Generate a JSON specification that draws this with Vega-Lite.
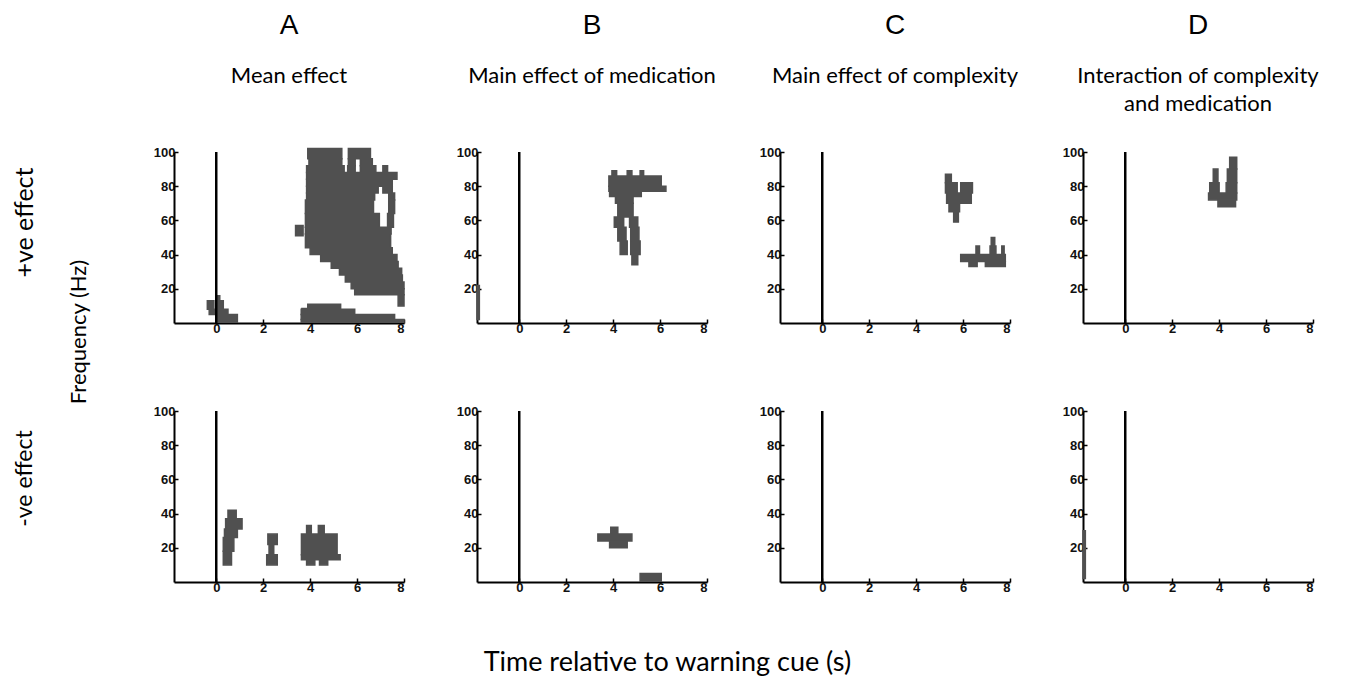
{
  "$schema": "https://vega.github.io/schema/vega-lite/v6.json",
  "background": "white",
  "padding": {"left": 12, "top": 12, "right": 5, "bottom": 5},
  "config": {
    "view": {"stroke": null},
    "axis": {"grid": false, "domainColor": "black", "domainWidth": 2, "tickColor": "black", "tickWidth": 1.5, "tickSize": -4, "labelFont": "Liberation Sans", "labelFontSize": 13, "labelFontWeight": "bold", "labelColor": "#111111", "labelPadding": 3},
    "title": {"font": "Liberation Sans", "fontSize": 28, "fontWeight": "normal", "color": "black", "subtitleFont": "Lato", "subtitleFontSize": 22, "subtitleColor": "black", "subtitleLineHeight": 28, "subtitlePadding": 26, "offset": 31, "anchor": "middle", "frame": "group"}
  },
  "datasets": {
    "blobs": [
      {"p":"A","r":"pos","t1":3.90,"t2":5.35,"f1":96,"f2":102},
      {"p":"A","r":"pos","t1":5.63,"t2":6.57,"f1":96,"f2":102},
      {"p":"A","r":"pos","t1":3.95,"t2":5.35,"f1":92,"f2":96},
      {"p":"A","r":"pos","t1":5.63,"t2":5.92,"f1":92,"f2":96},
      {"p":"A","r":"pos","t1":6.14,"t2":6.65,"f1":92,"f2":96},
      {"p":"A","r":"pos","t1":3.85,"t2":5.45,"f1":88,"f2":92},
      {"p":"A","r":"pos","t1":5.60,"t2":5.92,"f1":88,"f2":92},
      {"p":"A","r":"pos","t1":6.14,"t2":6.80,"f1":88,"f2":92},
      {"p":"A","r":"pos","t1":7.10,"t2":7.30,"f1":88,"f2":92},
      {"p":"A","r":"pos","t1":3.85,"t2":7.70,"f1":84,"f2":88},
      {"p":"A","r":"pos","t1":3.85,"t2":7.50,"f1":80,"f2":84},
      {"p":"A","r":"pos","t1":3.85,"t2":6.90,"f1":76,"f2":80},
      {"p":"A","r":"pos","t1":7.10,"t2":7.50,"f1":76,"f2":80},
      {"p":"A","r":"pos","t1":3.85,"t2":6.75,"f1":72,"f2":76},
      {"p":"A","r":"pos","t1":7.35,"t2":7.60,"f1":72,"f2":76},
      {"p":"A","r":"pos","t1":3.80,"t2":6.70,"f1":64,"f2":72},
      {"p":"A","r":"pos","t1":7.35,"t2":7.60,"f1":64,"f2":72},
      {"p":"A","r":"pos","t1":3.80,"t2":6.95,"f1":56,"f2":64},
      {"p":"A","r":"pos","t1":7.30,"t2":7.55,"f1":56,"f2":64},
      {"p":"A","r":"pos","t1":3.80,"t2":7.45,"f1":52,"f2":56},
      {"p":"A","r":"pos","t1":3.38,"t2":3.70,"f1":51,"f2":57},
      {"p":"A","r":"pos","t1":3.80,"t2":7.43,"f1":44,"f2":52},
      {"p":"A","r":"pos","t1":4.00,"t2":7.50,"f1":40,"f2":44},
      {"p":"A","r":"pos","t1":4.45,"t2":7.70,"f1":36,"f2":40},
      {"p":"A","r":"pos","t1":4.90,"t2":7.75,"f1":32,"f2":36},
      {"p":"A","r":"pos","t1":5.25,"t2":7.90,"f1":28,"f2":32},
      {"p":"A","r":"pos","t1":5.50,"t2":7.93,"f1":24,"f2":28},
      {"p":"A","r":"pos","t1":5.75,"t2":8.00,"f1":20,"f2":24},
      {"p":"A","r":"pos","t1":5.90,"t2":8.00,"f1":16.5,"f2":20},
      {"p":"A","r":"pos","t1":7.75,"t2":8.00,"f1":10,"f2":16.5},
      {"p":"A","r":"pos","t1":3.65,"t2":3.85,"f1":6,"f2":8.5},
      {"p":"A","r":"pos","t1":3.90,"t2":5.30,"f1":8,"f2":11},
      {"p":"A","r":"pos","t1":3.62,"t2":5.90,"f1":5,"f2":8},
      {"p":"A","r":"pos","t1":3.62,"t2":7.60,"f1":2,"f2":5},
      {"p":"A","r":"pos","t1":3.62,"t2":8.00,"f1":0.5,"f2":2},
      {"p":"A","r":"pos","t1":0.00,"t2":0.15,"f1":13,"f2":16},
      {"p":"A","r":"pos","t1":-0.38,"t2":-0.10,"f1":8,"f2":13},
      {"p":"A","r":"pos","t1":0.00,"t2":0.30,"f1":8,"f2":13},
      {"p":"A","r":"pos","t1":-0.30,"t2":0.50,"f1":5,"f2":8},
      {"p":"A","r":"pos","t1":0.00,"t2":0.90,"f1":0.5,"f2":5},

      {"p":"B","r":"pos","t1":3.95,"t2":4.15,"f1":86,"f2":89},
      {"p":"B","r":"pos","t1":4.60,"t2":4.80,"f1":86,"f2":89},
      {"p":"B","r":"pos","t1":5.15,"t2":5.30,"f1":86,"f2":89},
      {"p":"B","r":"pos","t1":3.82,"t2":6.05,"f1":80,"f2":86},
      {"p":"B","r":"pos","t1":3.82,"t2":6.25,"f1":77,"f2":80},
      {"p":"B","r":"pos","t1":3.85,"t2":5.20,"f1":74,"f2":77},
      {"p":"B","r":"pos","t1":4.10,"t2":4.85,"f1":70,"f2":74},
      {"p":"B","r":"pos","t1":4.20,"t2":4.85,"f1":62,"f2":70},
      {"p":"B","r":"pos","t1":4.05,"t2":4.45,"f1":56,"f2":62},
      {"p":"B","r":"pos","t1":4.70,"t2":5.05,"f1":56,"f2":62},
      {"p":"B","r":"pos","t1":4.20,"t2":4.55,"f1":48,"f2":56},
      {"p":"B","r":"pos","t1":4.75,"t2":5.10,"f1":48,"f2":56},
      {"p":"B","r":"pos","t1":4.30,"t2":4.60,"f1":40,"f2":48},
      {"p":"B","r":"pos","t1":4.75,"t2":5.15,"f1":40,"f2":48},
      {"p":"B","r":"pos","t1":4.80,"t2":5.05,"f1":34,"f2":40},
      {"p":"B","r":"pos","t1":-1.80,"t2":-1.70,"f1":2,"f2":22},

      {"p":"C","r":"pos","t1":5.25,"t2":5.50,"f1":82,"f2":87},
      {"p":"C","r":"pos","t1":5.25,"t2":5.75,"f1":76,"f2":82},
      {"p":"C","r":"pos","t1":5.90,"t2":6.40,"f1":76,"f2":82},
      {"p":"C","r":"pos","t1":5.30,"t2":6.35,"f1":70,"f2":76},
      {"p":"C","r":"pos","t1":5.40,"t2":5.85,"f1":65,"f2":70},
      {"p":"C","r":"pos","t1":5.60,"t2":5.80,"f1":59,"f2":65},
      {"p":"C","r":"pos","t1":7.20,"t2":7.35,"f1":45,"f2":50},
      {"p":"C","r":"pos","t1":6.55,"t2":6.70,"f1":40,"f2":45},
      {"p":"C","r":"pos","t1":7.15,"t2":7.40,"f1":40,"f2":45},
      {"p":"C","r":"pos","t1":7.65,"t2":7.75,"f1":40,"f2":45},
      {"p":"C","r":"pos","t1":5.90,"t2":7.80,"f1":36,"f2":40},
      {"p":"C","r":"pos","t1":6.25,"t2":6.60,"f1":33,"f2":36},
      {"p":"C","r":"pos","t1":6.95,"t2":7.80,"f1":33,"f2":36},

      {"p":"D","r":"pos","t1":4.45,"t2":4.75,"f1":90,"f2":97},
      {"p":"D","r":"pos","t1":3.75,"t2":3.95,"f1":82,"f2":90},
      {"p":"D","r":"pos","t1":4.35,"t2":4.75,"f1":82,"f2":90},
      {"p":"D","r":"pos","t1":3.60,"t2":4.00,"f1":76,"f2":82},
      {"p":"D","r":"pos","t1":4.30,"t2":4.75,"f1":76,"f2":82},
      {"p":"D","r":"pos","t1":3.55,"t2":4.75,"f1":72,"f2":76},
      {"p":"D","r":"pos","t1":3.95,"t2":4.70,"f1":68,"f2":72},

      {"p":"A","r":"neg","t1":0.50,"t2":0.85,"f1":37,"f2":42},
      {"p":"A","r":"neg","t1":0.40,"t2":1.10,"f1":31,"f2":37},
      {"p":"A","r":"neg","t1":0.35,"t2":0.90,"f1":26,"f2":31},
      {"p":"A","r":"neg","t1":0.30,"t2":0.75,"f1":18,"f2":26},
      {"p":"A","r":"neg","t1":0.30,"t2":0.65,"f1":10,"f2":18},
      {"p":"A","r":"neg","t1":2.20,"t2":2.60,"f1":22,"f2":28},
      {"p":"A","r":"neg","t1":2.25,"t2":2.45,"f1":16,"f2":22},
      {"p":"A","r":"neg","t1":2.15,"t2":2.60,"f1":10,"f2":16},
      {"p":"A","r":"neg","t1":3.85,"t2":4.05,"f1":28,"f2":33},
      {"p":"A","r":"neg","t1":4.35,"t2":4.60,"f1":28,"f2":33},
      {"p":"A","r":"neg","t1":3.63,"t2":5.15,"f1":16,"f2":28},
      {"p":"A","r":"neg","t1":3.63,"t2":5.28,"f1":13,"f2":16},
      {"p":"A","r":"neg","t1":3.85,"t2":4.20,"f1":10,"f2":13},
      {"p":"A","r":"neg","t1":4.40,"t2":4.75,"f1":10,"f2":13},

      {"p":"B","r":"neg","t1":3.90,"t2":4.20,"f1":28,"f2":32},
      {"p":"B","r":"neg","t1":3.35,"t2":4.80,"f1":24,"f2":28},
      {"p":"B","r":"neg","t1":3.85,"t2":4.60,"f1":20,"f2":24},
      {"p":"B","r":"neg","t1":5.15,"t2":6.05,"f1":0.5,"f2":5},

      {"p":"D","r":"neg","t1":-1.80,"t2":-1.70,"f1":2,"f2":30}
    ]
  },
  "data": {"name": "blobs"},
  "title": {"text": "Frequency (Hz)", "orient": "left", "anchor": "middle", "frame": "bounds", "offset": -79, "dx": 12, "font": "Lato", "fontSize": 22, "fontWeight": "normal", "color": "black"},
  "spacing": 70,
  "vconcat": [
    {
      "bounds": "flush",
      "spacing": 73,
      "hconcat": [
        {
          "width": 230, "height": 171,
          "title": {"text": "A", "subtitle": ["Mean effect", " "]},
          "layer": [
            {"transform": [{"filter": "datum.p === 'A' && datum.r === 'pos'"}],
             "mark": {"type": "rect", "color": "#505050", "stroke": "#505050", "strokeWidth": 1.5},
             "encoding": {
               "x": {"field": "t1", "type": "quantitative", "scale": {"domain": [-1.8, 8], "nice": false, "zero": false}, "axis": {"values": [0, 2, 4, 6, 8], "title": null}},
               "x2": {"field": "t2"},
               "y": {"field": "f1", "type": "quantitative", "scale": {"domain": [0, 100], "nice": false}, "axis": {"values": [20, 40, 60, 80, 100], "title": "+ve effect", "titleFont": "Lato", "titleFontSize": 25, "titleFontWeight": "normal", "titleColor": "black", "titleX": -150, "titleY": 70, "titleBaseline": "middle", "titleAlign": "center", "titleAngle": -90}},
               "y2": {"field": "f2"}
             }},
            {"data": {"values": [{}]},
             "mark": {"type": "rule", "color": "black", "strokeWidth": 2.5},
             "encoding": {"x": {"datum": 0}, "y": {"datum": 0}, "y2": {"datum": 100}}}
          ]
        },
        {
          "width": 230, "height": 171,
          "title": {"text": "B", "subtitle": ["Main effect of medication", " "]},
          "layer": [
            {"transform": [{"filter": "datum.p === 'B' && datum.r === 'pos'"}],
             "mark": {"type": "rect", "color": "#505050", "stroke": "#505050", "strokeWidth": 1.5},
             "encoding": {
               "x": {"field": "t1", "type": "quantitative", "scale": {"domain": [-1.8, 8], "nice": false, "zero": false}, "axis": {"values": [0, 2, 4, 6, 8], "title": null}},
               "x2": {"field": "t2"},
               "y": {"field": "f1", "type": "quantitative", "scale": {"domain": [0, 100], "nice": false}, "axis": {"values": [20, 40, 60, 80, 100], "title": null}},
               "y2": {"field": "f2"}
             }},
            {"data": {"values": [{}]},
             "mark": {"type": "rule", "color": "black", "strokeWidth": 2.5},
             "encoding": {"x": {"datum": 0}, "y": {"datum": 0}, "y2": {"datum": 100}}}
          ]
        },
        {
          "width": 230, "height": 171,
          "title": {"text": "C", "subtitle": ["Main effect of complexity", " "]},
          "layer": [
            {"transform": [{"filter": "datum.p === 'C' && datum.r === 'pos'"}],
             "mark": {"type": "rect", "color": "#505050", "stroke": "#505050", "strokeWidth": 1.5},
             "encoding": {
               "x": {"field": "t1", "type": "quantitative", "scale": {"domain": [-1.8, 8], "nice": false, "zero": false}, "axis": {"values": [0, 2, 4, 6, 8], "title": null}},
               "x2": {"field": "t2"},
               "y": {"field": "f1", "type": "quantitative", "scale": {"domain": [0, 100], "nice": false}, "axis": {"values": [20, 40, 60, 80, 100], "title": null}},
               "y2": {"field": "f2"}
             }},
            {"data": {"values": [{}]},
             "mark": {"type": "rule", "color": "black", "strokeWidth": 2.5},
             "encoding": {"x": {"datum": 0}, "y": {"datum": 0}, "y2": {"datum": 100}}}
          ]
        },
        {
          "width": 230, "height": 171,
          "title": {"text": "D", "subtitle": ["Interaction of complexity", "and medication"]},
          "layer": [
            {"transform": [{"filter": "datum.p === 'D' && datum.r === 'pos'"}],
             "mark": {"type": "rect", "color": "#505050", "stroke": "#505050", "strokeWidth": 1.5},
             "encoding": {
               "x": {"field": "t1", "type": "quantitative", "scale": {"domain": [-1.8, 8], "nice": false, "zero": false}, "axis": {"values": [0, 2, 4, 6, 8], "title": null}},
               "x2": {"field": "t2"},
               "y": {"field": "f1", "type": "quantitative", "scale": {"domain": [0, 100], "nice": false}, "axis": {"values": [20, 40, 60, 80, 100], "title": null}},
               "y2": {"field": "f2"}
             }},
            {"data": {"values": [{}]},
             "mark": {"type": "rule", "color": "black", "strokeWidth": 2.5},
             "encoding": {"x": {"datum": 0}, "y": {"datum": 0}, "y2": {"datum": 100}}}
          ]
        }
      ]
    },
    {
      "bounds": "flush",
      "spacing": 73,
      "title": {"text": "Time relative to warning cue (s)", "orient": "bottom", "anchor": "middle", "frame": "bounds", "offset": 56, "dx": 4, "font": "Lato", "fontSize": 27, "fontWeight": "normal", "color": "black"},
      "hconcat": [
        {
          "width": 230, "height": 171,
          "layer": [
            {"transform": [{"filter": "datum.p === 'A' && datum.r === 'neg'"}],
             "mark": {"type": "rect", "color": "#505050", "stroke": "#505050", "strokeWidth": 1.5},
             "encoding": {
               "x": {"field": "t1", "type": "quantitative", "scale": {"domain": [-1.8, 8], "nice": false, "zero": false}, "axis": {"values": [0, 2, 4, 6, 8], "title": null}},
               "x2": {"field": "t2"},
               "y": {"field": "f1", "type": "quantitative", "scale": {"domain": [0, 100], "nice": false}, "axis": {"values": [20, 40, 60, 80, 100], "title": "-ve effect", "titleFont": "Lato", "titleFontSize": 23, "titleFontWeight": "normal", "titleColor": "black", "titleX": -150, "titleY": 67, "titleBaseline": "middle", "titleAlign": "center", "titleAngle": -90}},
               "y2": {"field": "f2"}
             }},
            {"data": {"values": [{}]},
             "mark": {"type": "rule", "color": "black", "strokeWidth": 2.5},
             "encoding": {"x": {"datum": 0}, "y": {"datum": 0}, "y2": {"datum": 100}}}
          ]
        },
        {
          "width": 230, "height": 171,
          "layer": [
            {"transform": [{"filter": "datum.p === 'B' && datum.r === 'neg'"}],
             "mark": {"type": "rect", "color": "#505050", "stroke": "#505050", "strokeWidth": 1.5},
             "encoding": {
               "x": {"field": "t1", "type": "quantitative", "scale": {"domain": [-1.8, 8], "nice": false, "zero": false}, "axis": {"values": [0, 2, 4, 6, 8], "title": null}},
               "x2": {"field": "t2"},
               "y": {"field": "f1", "type": "quantitative", "scale": {"domain": [0, 100], "nice": false}, "axis": {"values": [20, 40, 60, 80, 100], "title": null}},
               "y2": {"field": "f2"}
             }},
            {"data": {"values": [{}]},
             "mark": {"type": "rule", "color": "black", "strokeWidth": 2.5},
             "encoding": {"x": {"datum": 0}, "y": {"datum": 0}, "y2": {"datum": 100}}}
          ]
        },
        {
          "width": 230, "height": 171,
          "layer": [
            {"transform": [{"filter": "datum.p === 'C' && datum.r === 'neg'"}],
             "mark": {"type": "rect", "color": "#505050", "stroke": "#505050", "strokeWidth": 1.5},
             "encoding": {
               "x": {"field": "t1", "type": "quantitative", "scale": {"domain": [-1.8, 8], "nice": false, "zero": false}, "axis": {"values": [0, 2, 4, 6, 8], "title": null}},
               "x2": {"field": "t2"},
               "y": {"field": "f1", "type": "quantitative", "scale": {"domain": [0, 100], "nice": false}, "axis": {"values": [20, 40, 60, 80, 100], "title": null}},
               "y2": {"field": "f2"}
             }},
            {"data": {"values": [{}]},
             "mark": {"type": "rule", "color": "black", "strokeWidth": 2.5},
             "encoding": {"x": {"datum": 0}, "y": {"datum": 0}, "y2": {"datum": 100}}}
          ]
        },
        {
          "width": 230, "height": 171,
          "layer": [
            {"transform": [{"filter": "datum.p === 'D' && datum.r === 'neg'"}],
             "mark": {"type": "rect", "color": "#505050", "stroke": "#505050", "strokeWidth": 1.5},
             "encoding": {
               "x": {"field": "t1", "type": "quantitative", "scale": {"domain": [-1.8, 8], "nice": false, "zero": false}, "axis": {"values": [0, 2, 4, 6, 8], "title": null}},
               "x2": {"field": "t2"},
               "y": {"field": "f1", "type": "quantitative", "scale": {"domain": [0, 100], "nice": false}, "axis": {"values": [20, 40, 60, 80, 100], "title": null}},
               "y2": {"field": "f2"}
             }},
            {"data": {"values": [{}]},
             "mark": {"type": "rule", "color": "black", "strokeWidth": 2.5},
             "encoding": {"x": {"datum": 0}, "y": {"datum": 0}, "y2": {"datum": 100}}}
          ]
        }
      ]
    }
  ]
}
